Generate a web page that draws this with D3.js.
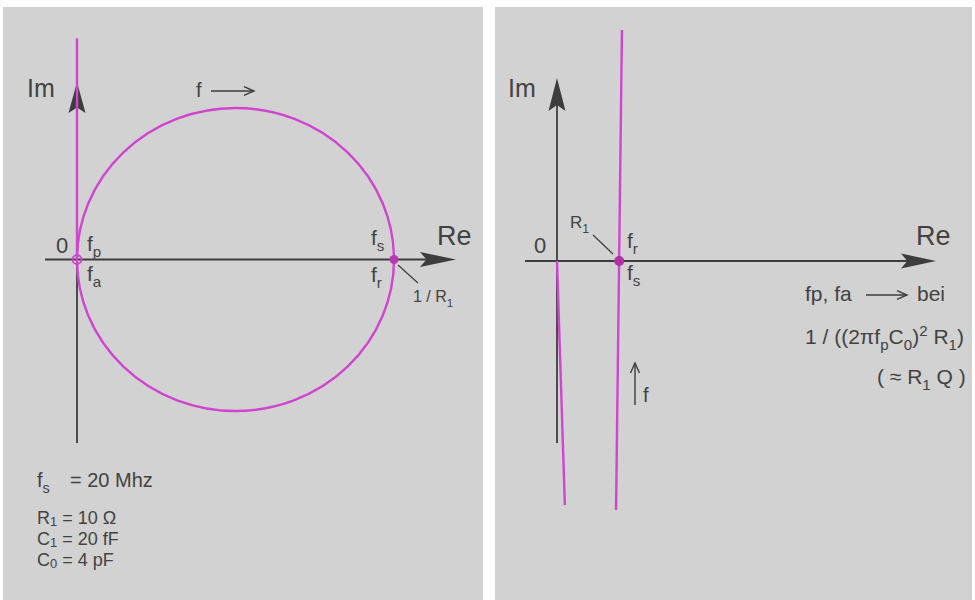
<!DOCTYPE html>
<html><head><meta charset="utf-8">
<script src="https://cdn.jsdelivr.net/npm/d3@7"></script>
<style>
html,body{margin:0;padding:0;background:#fff;}
svg{display:block;font-family:"Liberation Sans",Arial,sans-serif;}
</style></head>
<body><svg id="c" width="975" height="600"></svg>
<script>
// ---- data (left: admittance plane, right: impedance plane) ----
const circleCenterRe = 0.05, circleCenterIm = 0, circleRadius = 0.05; // Siemens, 1/R1 = 0.1
const leftLineRe = [0, 0];
const leftLineIm = [0, 0.073];
const leftMarkersRe = [0, 0.1];
const leftMarkersIm = [0, 0];
const rightLine1Re = [1.065, 0.968];
const rightLine1Im = [1.0, -1.078];
const rightLine2Re = [0, 0.129];
const rightLine2Im = [0, -1.056];
const rightMarkersRe = [1.02];
const rightMarkersIm = [0];
const paramLabels = [
  [["R","n"],["1","sub"],[" = 10 Ω","n"]],
  [["C","n"],["1","sub"],[" = 20 fF","n"]],
  [["C","n"],["0","sub"],[" = 4 pF","n"]]
];

const svg = d3.select("#c");
const ax = "#3d3d3d", mag = "#cf45cf", txt = "#424242";
svg.append("rect").attr("x",3).attr("y",7).attr("width",480).attr("height",593).attr("fill","#d2d2d2");
svg.append("rect").attr("x",495).attr("y",7).attr("width",477).attr("height",593).attr("fill","#d2d2d2");

function addLine(t, x, y, parts, size, subShift) {
  parts.forEach(([s,k], i) => {
    const off = k==="sub" ? (subShift==null?0.3:subShift)*size : k==="sup" ? -0.38*size : 0;
    const sp = t.append("tspan").text(s).attr("y", y + off);
    if (i===0) sp.attr("x", x);
    if (k!=="n") sp.attr("font-size", size*0.72);
  });
}
function label(x, y, parts, size, anchor) {
  const t = svg.append("text").attr("font-size",size).attr("fill",txt)
    .attr("text-anchor",anchor||"start").style("white-space","pre");
  addLine(t, x, y, parts, size);
  return t;
}
function arrowHead(x, y, dir, len, hw) {
  let pts;
  if (dir==="right") pts = [[x,y],[x-len,y-hw],[x-len*0.82,y],[x-len,y+hw]];
  else pts = [[x,y],[x-hw,y+len],[x,y+len*0.82],[x+hw,y+len]];
  svg.append("path").attr("d","M"+pts.map(p=>p.join(",")).join("L")+"Z").attr("fill",ax);
}
function openArrow(x1,y1,x2,y2) {
  const g = svg.append("g").attr("stroke",ax).attr("stroke-width",1.4).attr("fill","none");
  g.append("line").attr("x1",x1).attr("y1",y1).attr("x2",x2).attr("y2",y2);
  const a = Math.atan2(y2-y1,x2-x1), L=11, w=0.42;
  g.append("path").attr("d",`M${x2-L*Math.cos(a-w)},${y2-L*Math.sin(a-w)}L${x2},${y2}L${x2-L*Math.cos(a+w)},${y2-L*Math.sin(a+w)}`);
}

// ---- left panel ----
const xL = d3.scaleLinear().domain([0, 0.1]).range([77, 394]);
const yL = d3.scaleLinear().domain([-0.05, 0.05]).range([411, 108]);
const y0L = yL(0);
svg.append("line").attr("x1",45).attr("x2",440).attr("y1",y0L).attr("y2",y0L).attr("stroke",ax).attr("stroke-width",1.8);
arrowHead(456, y0L, "right", 36, 7.5);
svg.append("line").attr("x1",xL(0)).attr("x2",xL(0)).attr("y1",443).attr("y2",100).attr("stroke",ax).attr("stroke-width",1.8);
arrowHead(xL(0), 82, "up", 31, 8.5);

svg.append("ellipse").attr("cx",xL(circleCenterRe)).attr("cy",yL(circleCenterIm))
  .attr("rx",xL(circleCenterRe+circleRadius)-xL(circleCenterRe))
  .attr("ry",yL(circleCenterIm)-yL(circleCenterIm+circleRadius))
  .attr("fill","none").attr("stroke",mag).attr("stroke-width",2.4);
const lineL = d3.line().x(d=>xL(d[0])).y(d=>yL(d[1]));
svg.append("path").attr("d",lineL(d3.zip(leftLineRe,leftLineIm))).attr("fill","none").attr("stroke",mag).attr("stroke-width",2.4);
svg.append("circle").attr("cx",xL(leftMarkersRe[0])).attr("cy",yL(leftMarkersIm[0])).attr("r",4.5).attr("fill","none").attr("stroke",mag).attr("stroke-width",1.8);
svg.append("circle").attr("cx",xL(leftMarkersRe[1])).attr("cy",yL(leftMarkersIm[1])).attr("r",4.5).attr("fill","#b838b0");
svg.append("line").attr("x1",398).attr("y1",265).attr("x2",418).attr("y2",283).attr("stroke",ax).attr("stroke-width",1.2);

label(27, 97, [["Im","n"]], 25);
label(56, 253, [["0","n"]], 22);
label(87, 251, [["f","n"],["p","sub"]], 21);
label(87, 281, [["f","n"],["a","sub"]], 21);
label(371, 245, [["f","n"],["s","sub"]], 21);
label(371, 282, [["f","n"],["r","sub"]], 21);
label(437, 245, [["Re","n"]], 27);
label(413, 302, [["1 / R","n"],["1","sub"]], 16);
label(196, 97, [["f","n"]], 20);
openArrow(211, 91, 254, 91);

label(37, 487, [["f","n"],["s","sub"]], 20);
label(70, 487, [["= 20 Mhz","n"]], 20);
paramLabels.forEach((p,i) => {
  const t = svg.append("text").attr("font-size",18).attr("fill",txt).style("white-space","pre");
  addLine(t, 37, [524,545,566][i], p, 18, 0.12);
});

// ---- right panel ----
const xR = d3.scaleLinear().domain([0, 1]).range([557, 618]);
const yR = d3.scaleLinear().domain([-1, 1]).range([492, 30]);
const y0R = yR(0);
svg.append("line").attr("x1",525).attr("x2",910).attr("y1",y0R).attr("y2",y0R).attr("stroke",ax).attr("stroke-width",1.8);
arrowHead(936, y0R, "right", 35, 7.5);
svg.append("line").attr("x1",xR(0)).attr("x2",xR(0)).attr("y1",443).attr("y2",100).attr("stroke",ax).attr("stroke-width",1.8);
arrowHead(xR(0), 78, "up", 33, 8.5);
const lineR = d3.line().x(d=>xR(d[0])).y(d=>yR(d[1]));
svg.append("path").attr("d",lineR(d3.zip(rightLine1Re,rightLine1Im))).attr("fill","none").attr("stroke",mag).attr("stroke-width",2.4);
svg.append("path").attr("d",lineR(d3.zip(rightLine2Re,rightLine2Im))).attr("fill","none").attr("stroke",mag).attr("stroke-width",2.4);
svg.append("circle").attr("cx",xR(rightMarkersRe[0])).attr("cy",yR(rightMarkersIm[0])).attr("r",5).attr("fill","#b030a8");
svg.append("line").attr("x1",593).attr("y1",235).attr("x2",613).attr("y2",254).attr("stroke",ax).attr("stroke-width",1.2);

label(508, 97, [["Im","n"]], 25);
label(534, 253, [["0","n"]], 22);
label(570, 228, [["R","n"],["1","sub"]], 17);
label(627, 248, [["f","n"],["r","sub"]], 21);
label(627, 280, [["f","n"],["s","sub"]], 21);
label(916, 245, [["Re","n"]], 27);
label(805, 301, [["fp, fa","n"]], 21);
openArrow(866, 295, 907, 295);
label(917, 301, [["bei","n"]], 21);
label(805, 344, [["1 / ((2πf","n"],["p","sub"],["C","n"],["0","sub"],[")","n"],["2","sup"],[" R","n"],["1","sub"],[")","n"]], 21);
label(877, 384, [["( ≈ R","n"],["1","sub"],[" Q )","n"]], 21);
openArrow(635, 405, 635, 363);
label(643, 402, [["f","n"]], 20);
</script></body></html>
